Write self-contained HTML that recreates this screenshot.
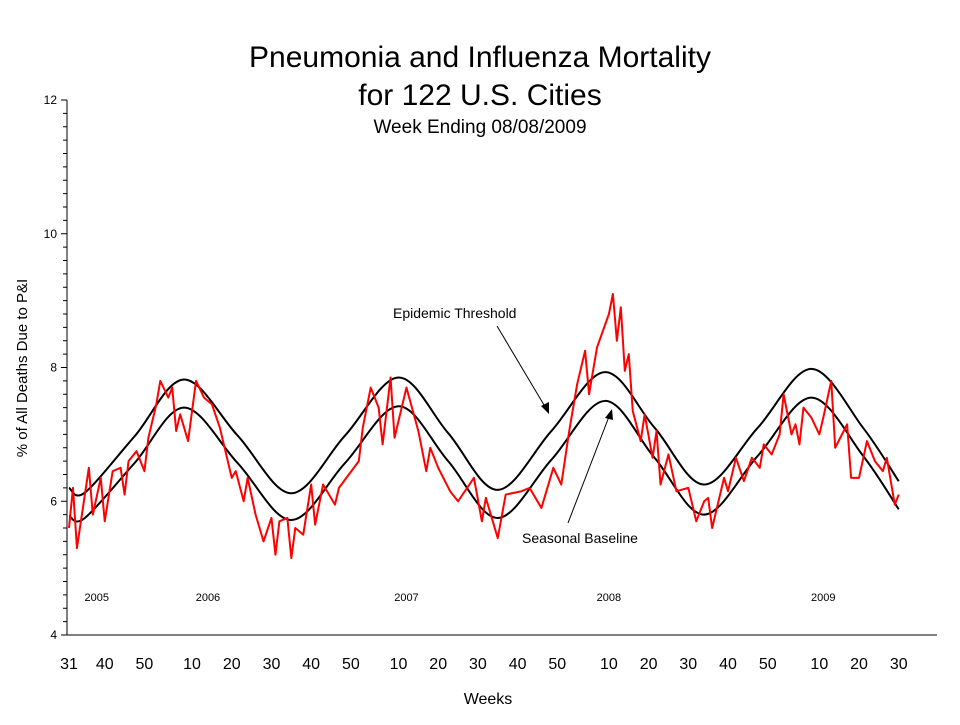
<!DOCTYPE html>
<html><head><meta charset="utf-8"><style>
body{margin:0;background:#fff;}
svg text{font-family:"Liberation Sans",Arial,sans-serif;fill:#000;}
</style></head><body>
<svg width="960" height="720" viewBox="0 0 960 720">
<text x="480" y="67" font-size="30" text-anchor="middle">Pneumonia and Influenza Mortality</text>
<text x="480" y="105" font-size="30" text-anchor="middle">for 122 U.S. Cities</text>
<text x="480" y="133" font-size="19" text-anchor="middle">Week Ending 08/08/2009</text>
<text transform="translate(27,368) rotate(-90)" font-size="15" text-anchor="middle">% of All Deaths Due to P&amp;I</text>
<text x="488" y="704" font-size="16" text-anchor="middle">Weeks</text>
<g id="axes"></g>
<g id="series"></g>
<text x="393" y="318" font-size="14">Epidemic Threshold</text>
<line x1="497" y1="326" x2="547" y2="410" stroke="#000" stroke-width="1"/>
<polygon points="549,414 541,406 549,402" fill="#000"/>
<text x="522" y="543" font-size="14">Seasonal Baseline</text>
<line x1="568" y1="523" x2="610" y2="414" stroke="#000" stroke-width="1"/>
<polygon points="612,409 605,418 613,420" fill="#000"/>
</svg>
<script>
const yTicks=[4,6,8,10,12];
const weekTickLabels=["31","40","50","10","20","30","40","50","10","20","30","40","50","10","20","30","40","50","10","20","30"];
const weekTickIdx=[0,9,19,31,41,51,61,71,83,93,103,113,123,136,146,156,166,176,189,199,209];
const yearLabels=["2005","2006","2007","2008","2009"];
const yearIdx=[7,35,85,136,190];
const pctWeeks=[0,1,2,5,6,8,9,11,13,14,15,17,19,20,22,23,25,26,27,28,30,32,34,36,38,41,42,44,45,47,49,51,52,53,55,56,57,59,61,62,64,67,68,73,74,76,78,79,81,82,85,88,90,91,93,96,98,102,104,105,108,110,114,116,119,122,124,126,128,130,131,133,136,137,138,139,140,141,142,144,145,147,148,149,151,153,156,158,160,161,162,165,166,168,170,172,174,175,177,179,180,182,183,184,185,187,189,190,192,193,196,197,199,201,203,205,206,208,209];
const pctValues=[5.6,6.2,5.3,6.5,5.8,6.35,5.7,6.45,6.5,6.1,6.6,6.75,6.45,6.95,7.45,7.8,7.55,7.7,7.05,7.3,6.9,7.8,7.55,7.45,7.1,6.35,6.45,6.0,6.35,5.8,5.4,5.75,5.2,5.7,5.75,5.15,5.6,5.5,6.25,5.65,6.25,5.95,6.2,6.6,7.1,7.7,7.4,6.85,7.85,6.95,7.7,7.05,6.45,6.8,6.5,6.15,6.0,6.35,5.7,6.05,5.45,6.1,6.15,6.2,5.9,6.5,6.25,7.05,7.75,8.25,7.6,8.3,8.8,9.1,8.4,8.9,7.95,8.2,7.35,6.9,7.3,6.65,7.05,6.25,6.7,6.15,6.2,5.7,6.0,6.05,5.6,6.35,6.15,6.65,6.3,6.65,6.5,6.85,6.7,7.0,7.6,7.0,7.15,6.85,7.4,7.25,7.0,7.25,7.8,6.8,7.15,6.35,6.35,6.9,6.6,6.45,6.65,5.95,6.1];
const curveWeeks=[0,4,16.5,29,42.5,56,69.5,83,95.5,108,121.5,135,147.5,160,173.5,187,200,209];
const baselineValues=[5.78,5.75,6.57,7.4,6.57,5.72,6.57,7.42,6.6,5.75,6.62,7.5,6.65,5.8,6.68,7.55,6.68,5.88];
const thresholdValues=[6.2,6.13,6.97,7.82,6.98,6.12,6.98,7.85,7.02,6.17,7.05,7.93,7.1,6.25,7.1,7.98,7.1,6.3];

const NS="http://www.w3.org/2000/svg";
const X0=69,XSTEP=3.97,Y0=635,YMIN=4,YPX=66.875;
const xs=w=>X0+w*XSTEP;
const ys=v=>Y0-(v-YMIN)*YPX;
function mk(tag,attrs,parent,txt){const e=document.createElementNS(NS,tag);for(const k in attrs)e.setAttribute(k,attrs[k]);if(txt!==undefined)e.textContent=txt;parent.appendChild(e);return e;}
const axes=document.getElementById('axes');
const series=document.getElementById('series');
let el=mk('line',{x1:67,y1:100,x2:67,y2:635,stroke:'#000','stroke-width':1},axes);


el=mk('line',{x1:67,y1:635,x2:937,y2:635,stroke:'#000','stroke-width':1},axes);


for(let v=YMIN;v<=12.001;v+=0.2){
  const major=Math.abs(v-Math.round(v/2)*2)<0.01;
  el=mk('line',{x1:major?61:63,y1:ys(v),x2:67,y2:ys(v),stroke:'#000','stroke-width':1},axes);
  
  
}
yTicks.forEach(t=>{
  el=mk('text',{x:57,y:ys(t)+4,'font-size':12,'text-anchor':'end'},axes,String(t));
  
  
});
weekTickLabels.forEach((t,i)=>{
  el=mk('text',{x:xs(weekTickIdx[i]),y:669,'font-size':16,'text-anchor':'middle'},axes,t);
  
  
});
yearLabels.forEach((t,i)=>{
  el=mk('text',{x:xs(yearIdx[i]),y:601,'font-size':11,'text-anchor':'middle'},axes,t);
  
  
});
function smooth(wk,vals){
  const p=wk.map((w,i)=>[xs(w),ys(vals[i])]);
  let d='M'+p[0][0]+','+p[0][1];
  for(let i=0;i<p.length-1;i++){
    const a=p[Math.max(0,i-1)],b=p[i],c=p[i+1],e=p[Math.min(p.length-1,i+2)];
    const c1=[b[0]+(c[0]-a[0])/6,b[1]+(c[1]-a[1])/6],c2=[c[0]-(e[0]-b[0])/6,c[1]-(e[1]-b[1])/6];
    d+=' C'+c1[0]+','+c1[1]+' '+c2[0]+','+c2[1]+' '+c[0]+','+c[1];
  }
  return d;
}
el=mk('path',{d:smooth(curveWeeks,thresholdValues),fill:'none',stroke:'#000','stroke-width':2},series);


el=mk('path',{d:smooth(curveWeeks,baselineValues),fill:'none',stroke:'#000','stroke-width':2},series);


el=mk('polyline',{points:pctWeeks.map((w,i)=>xs(w)+','+ys(pctValues[i])).join(' '),fill:'none',stroke:'#ff0000','stroke-width':2,'stroke-linejoin':'round'},series);


</script>
</body></html>
